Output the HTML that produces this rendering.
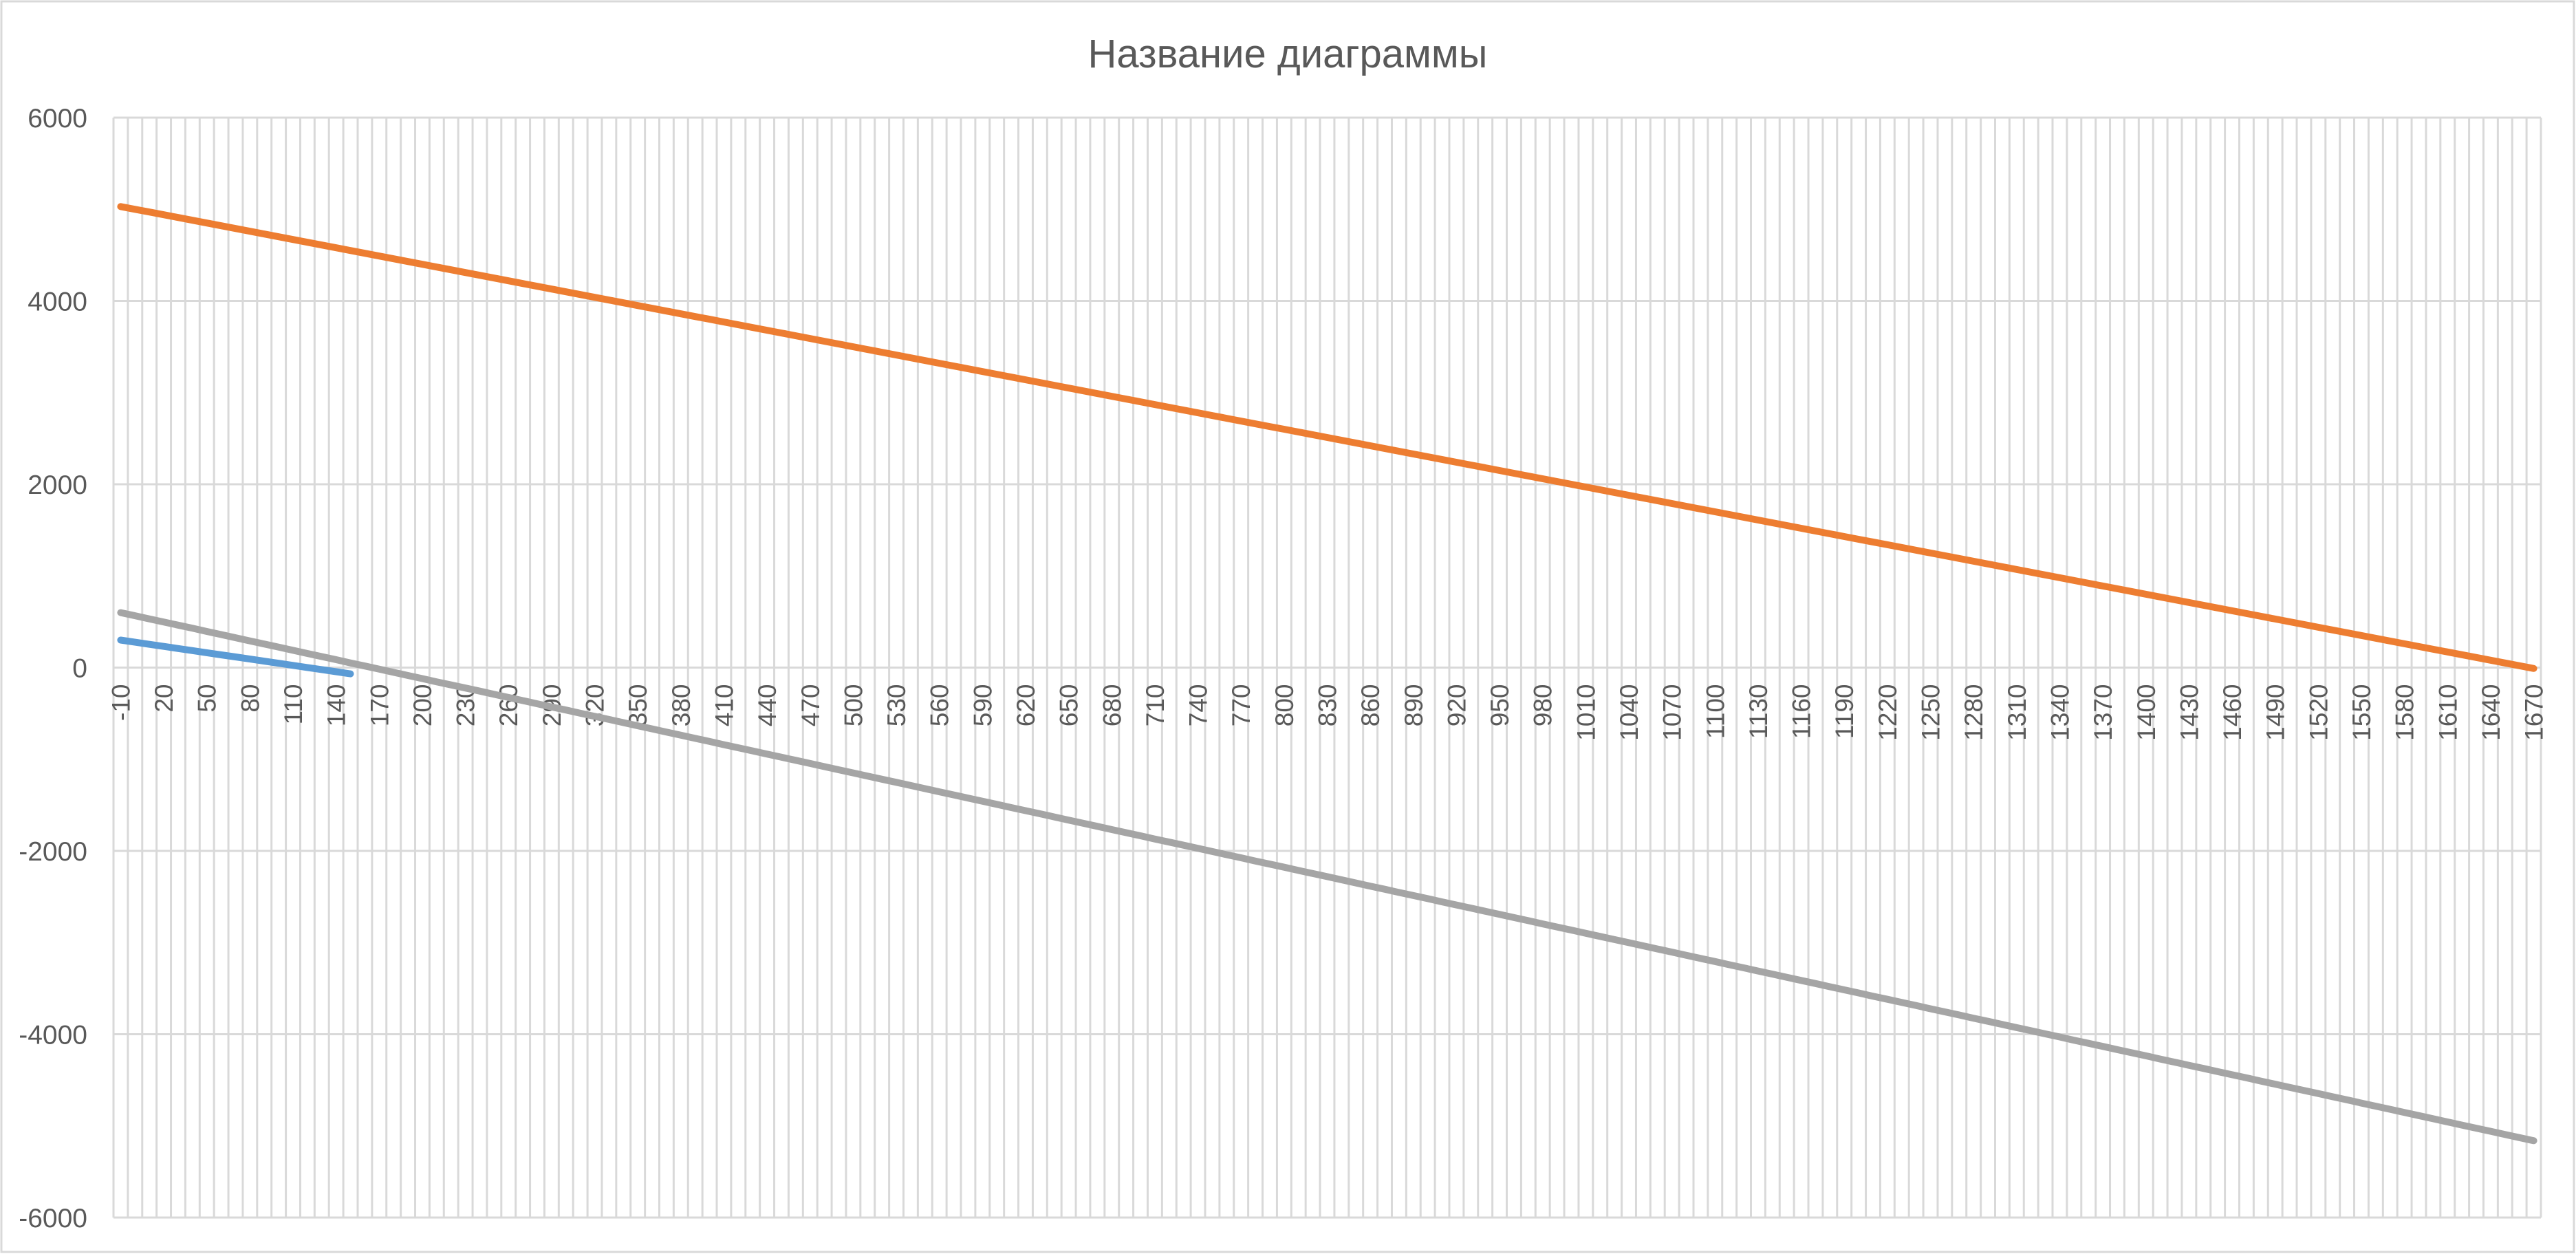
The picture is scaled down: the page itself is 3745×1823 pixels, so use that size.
<!DOCTYPE html>
<html><head><meta charset="utf-8"><style>
html,body{margin:0;padding:0;background:#fff;}
svg{display:block;}
</style></head><body>
<svg id="chart" width="3745" height="1823" xmlns="http://www.w3.org/2000/svg">
<rect x="2" y="2" width="3740" height="1818" fill="#fff" stroke="#d9d9d9" stroke-width="3"/>
<text x="1872" y="98" text-anchor="middle" font-family="'Liberation Sans','Noto Sans CJK SC',sans-serif" font-size="58" fill="#595959">Название диаграммы</text>
<g id="grid"></g>
<g id="yaxis"></g>
<g id="xaxis"></g>
<g id="series"></g>
</svg>
<script>
const categories=[-10,0,10,20,30,40,50,60,70,80,90,100,110,120,130,140,150,160,170,180,190,200,210,220,230,240,250,260,270,280,290,300,310,320,330,340,350,360,370,380,390,400,410,420,430,440,450,460,470,480,490,500,510,520,530,540,550,560,570,580,590,600,610,620,630,640,650,660,670,680,690,700,710,720,730,740,750,760,770,780,790,800,810,820,830,840,850,860,870,880,890,900,910,920,930,940,950,960,970,980,990,1000,1010,1020,1030,1040,1050,1060,1070,1080,1090,1100,1110,1120,1130,1140,1150,1160,1170,1180,1190,1200,1210,1220,1230,1240,1250,1260,1270,1280,1290,1300,1310,1320,1330,1340,1350,1360,1370,1380,1390,1400,1410,1420,1430,1440,1450,1460,1470,1480,1490,1500,1510,1520,1530,1540,1550,1560,1570,1580,1590,1600,1610,1620,1630,1640,1650,1660,1670];
const seriesBlue=[300,277,254,231,208,185,162,139,116,93,70,47,24,1,-22,-45,-68];
const seriesOrange=[5030,5000,4970,4940,4910,4880,4850,4820,4790,4760,4730,4700,4670,4640,4610,4580,4550,4520,4490,4460,4430,4400,4370,4340,4310,4280,4250,4220,4190,4160,4130,4100,4070,4040,4010,3980,3950,3920,3890,3860,3830,3800,3770,3740,3710,3680,3650,3620,3590,3560,3530,3500,3470,3440,3410,3380,3350,3320,3290,3260,3230,3200,3170,3140,3110,3080,3050,3020,2990,2960,2930,2900,2870,2840,2810,2780,2750,2720,2690,2660,2630,2600,2570,2540,2510,2480,2450,2420,2390,2360,2330,2300,2270,2240,2210,2180,2150,2120,2090,2060,2030,2000,1970,1940,1910,1880,1850,1820,1790,1760,1730,1700,1670,1640,1610,1580,1550,1520,1490,1460,1430,1400,1370,1340,1310,1280,1250,1220,1190,1160,1130,1100,1070,1040,1010,980,950,920,890,860,830,800,770,740,710,680,650,620,590,560,530,500,470,440,410,380,350,320,290,260,230,200,170,140,110,80,50,20,-10];
const seriesGray=[600,566,531,497,463,429,394,360,326,291,257,223,188,154,120,86,51,17,-17,-52,-86,-120,-155,-189,-223,-257,-292,-326,-360,-395,-429,-463,-498,-532,-566,-600,-635,-669,-703,-738,-772,-806,-841,-875,-909,-943,-978,-1012,-1046,-1081,-1115,-1149,-1184,-1218,-1252,-1286,-1321,-1355,-1389,-1424,-1458,-1492,-1527,-1561,-1595,-1629,-1664,-1698,-1732,-1767,-1801,-1835,-1870,-1904,-1938,-1972,-2007,-2041,-2075,-2110,-2144,-2178,-2213,-2247,-2281,-2315,-2350,-2384,-2418,-2453,-2487,-2521,-2556,-2590,-2624,-2658,-2693,-2727,-2761,-2796,-2830,-2864,-2899,-2933,-2967,-3001,-3036,-3070,-3104,-3139,-3173,-3207,-3242,-3276,-3310,-3344,-3379,-3413,-3447,-3482,-3516,-3550,-3585,-3619,-3653,-3687,-3722,-3756,-3790,-3825,-3859,-3893,-3928,-3962,-3996,-4030,-4065,-4099,-4133,-4168,-4202,-4236,-4271,-4305,-4339,-4373,-4408,-4442,-4476,-4511,-4545,-4579,-4614,-4648,-4682,-4716,-4751,-4785,-4819,-4854,-4888,-4922,-4957,-4991,-5025,-5059,-5094,-5128,-5162];
const yTicks=[6000,4000,2000,0,-2000,-4000,-6000];

const NS="http://www.w3.org/2000/svg";
const L=165,R=3694,T=171,B=1770,yMin=-6000,yMax=6000;
const n=categories.length, bw=(R-L)/n;
function xPos(i){return L+(i+0.5)*bw;}
function yPos(v){return T+(yMax-v)/(yMax-yMin)*(B-T);}
function mk(tag,attrs,parent){const e=document.createElementNS(NS,tag);for(const k in attrs)e.setAttribute(k,attrs[k]);parent.appendChild(e);return e;}
const grid=document.getElementById('grid'),ya=document.getElementById('yaxis'),xa=document.getElementById('xaxis'),sg=document.getElementById('series');
for(let i=0;i<=n;i++){
  const x=L+i*bw;
  const g=mk('line',{x1:x,x2:x,y1:T,y2:B,stroke:'#d9d9d9','stroke-width':3},grid);
  
  
}
yTicks.forEach(v=>{
  const y=yPos(v);
  const g=mk('line',{x1:L,x2:R,y1:y,y2:y,stroke:'#d9d9d9','stroke-width':3},grid);
  
  
  const t=mk('text',{x:127,y:y+14,'text-anchor':'end','font-family':"'Liberation Sans',sans-serif",'font-size':39,fill:'#595959'},ya);
  t.textContent=v;
  
  
});
categories.forEach((c,i)=>{
  if(i%3!==0)return;
  const x=xPos(i), y=yPos(0)+24;
  const t=mk('text',{x:0,y:0,transform:`translate(${x+13},${y}) rotate(-90)`,'text-anchor':'end','font-family':"'Liberation Sans',sans-serif",'font-size':37,fill:'#595959'},xa);
  t.textContent=c;
  
  
});
function drawSeries(vals,color,name){
  const d=vals.map((v,i)=>(i?'L':'M')+xPos(i).toFixed(1)+' '+yPos(v).toFixed(1)).join(' ');
  const p=mk('path',{d:d,fill:'none',stroke:color,'stroke-width':10,'stroke-linecap':'round','stroke-linejoin':'round'},sg);
  
  
}
drawSeries(seriesGray,'#a5a5a5','series-gray-line');
drawSeries(seriesOrange,'#ed7d31','series-orange-line');
drawSeries(seriesBlue,'#5b9bd5','series-blue-line');
</script>
</body></html>
